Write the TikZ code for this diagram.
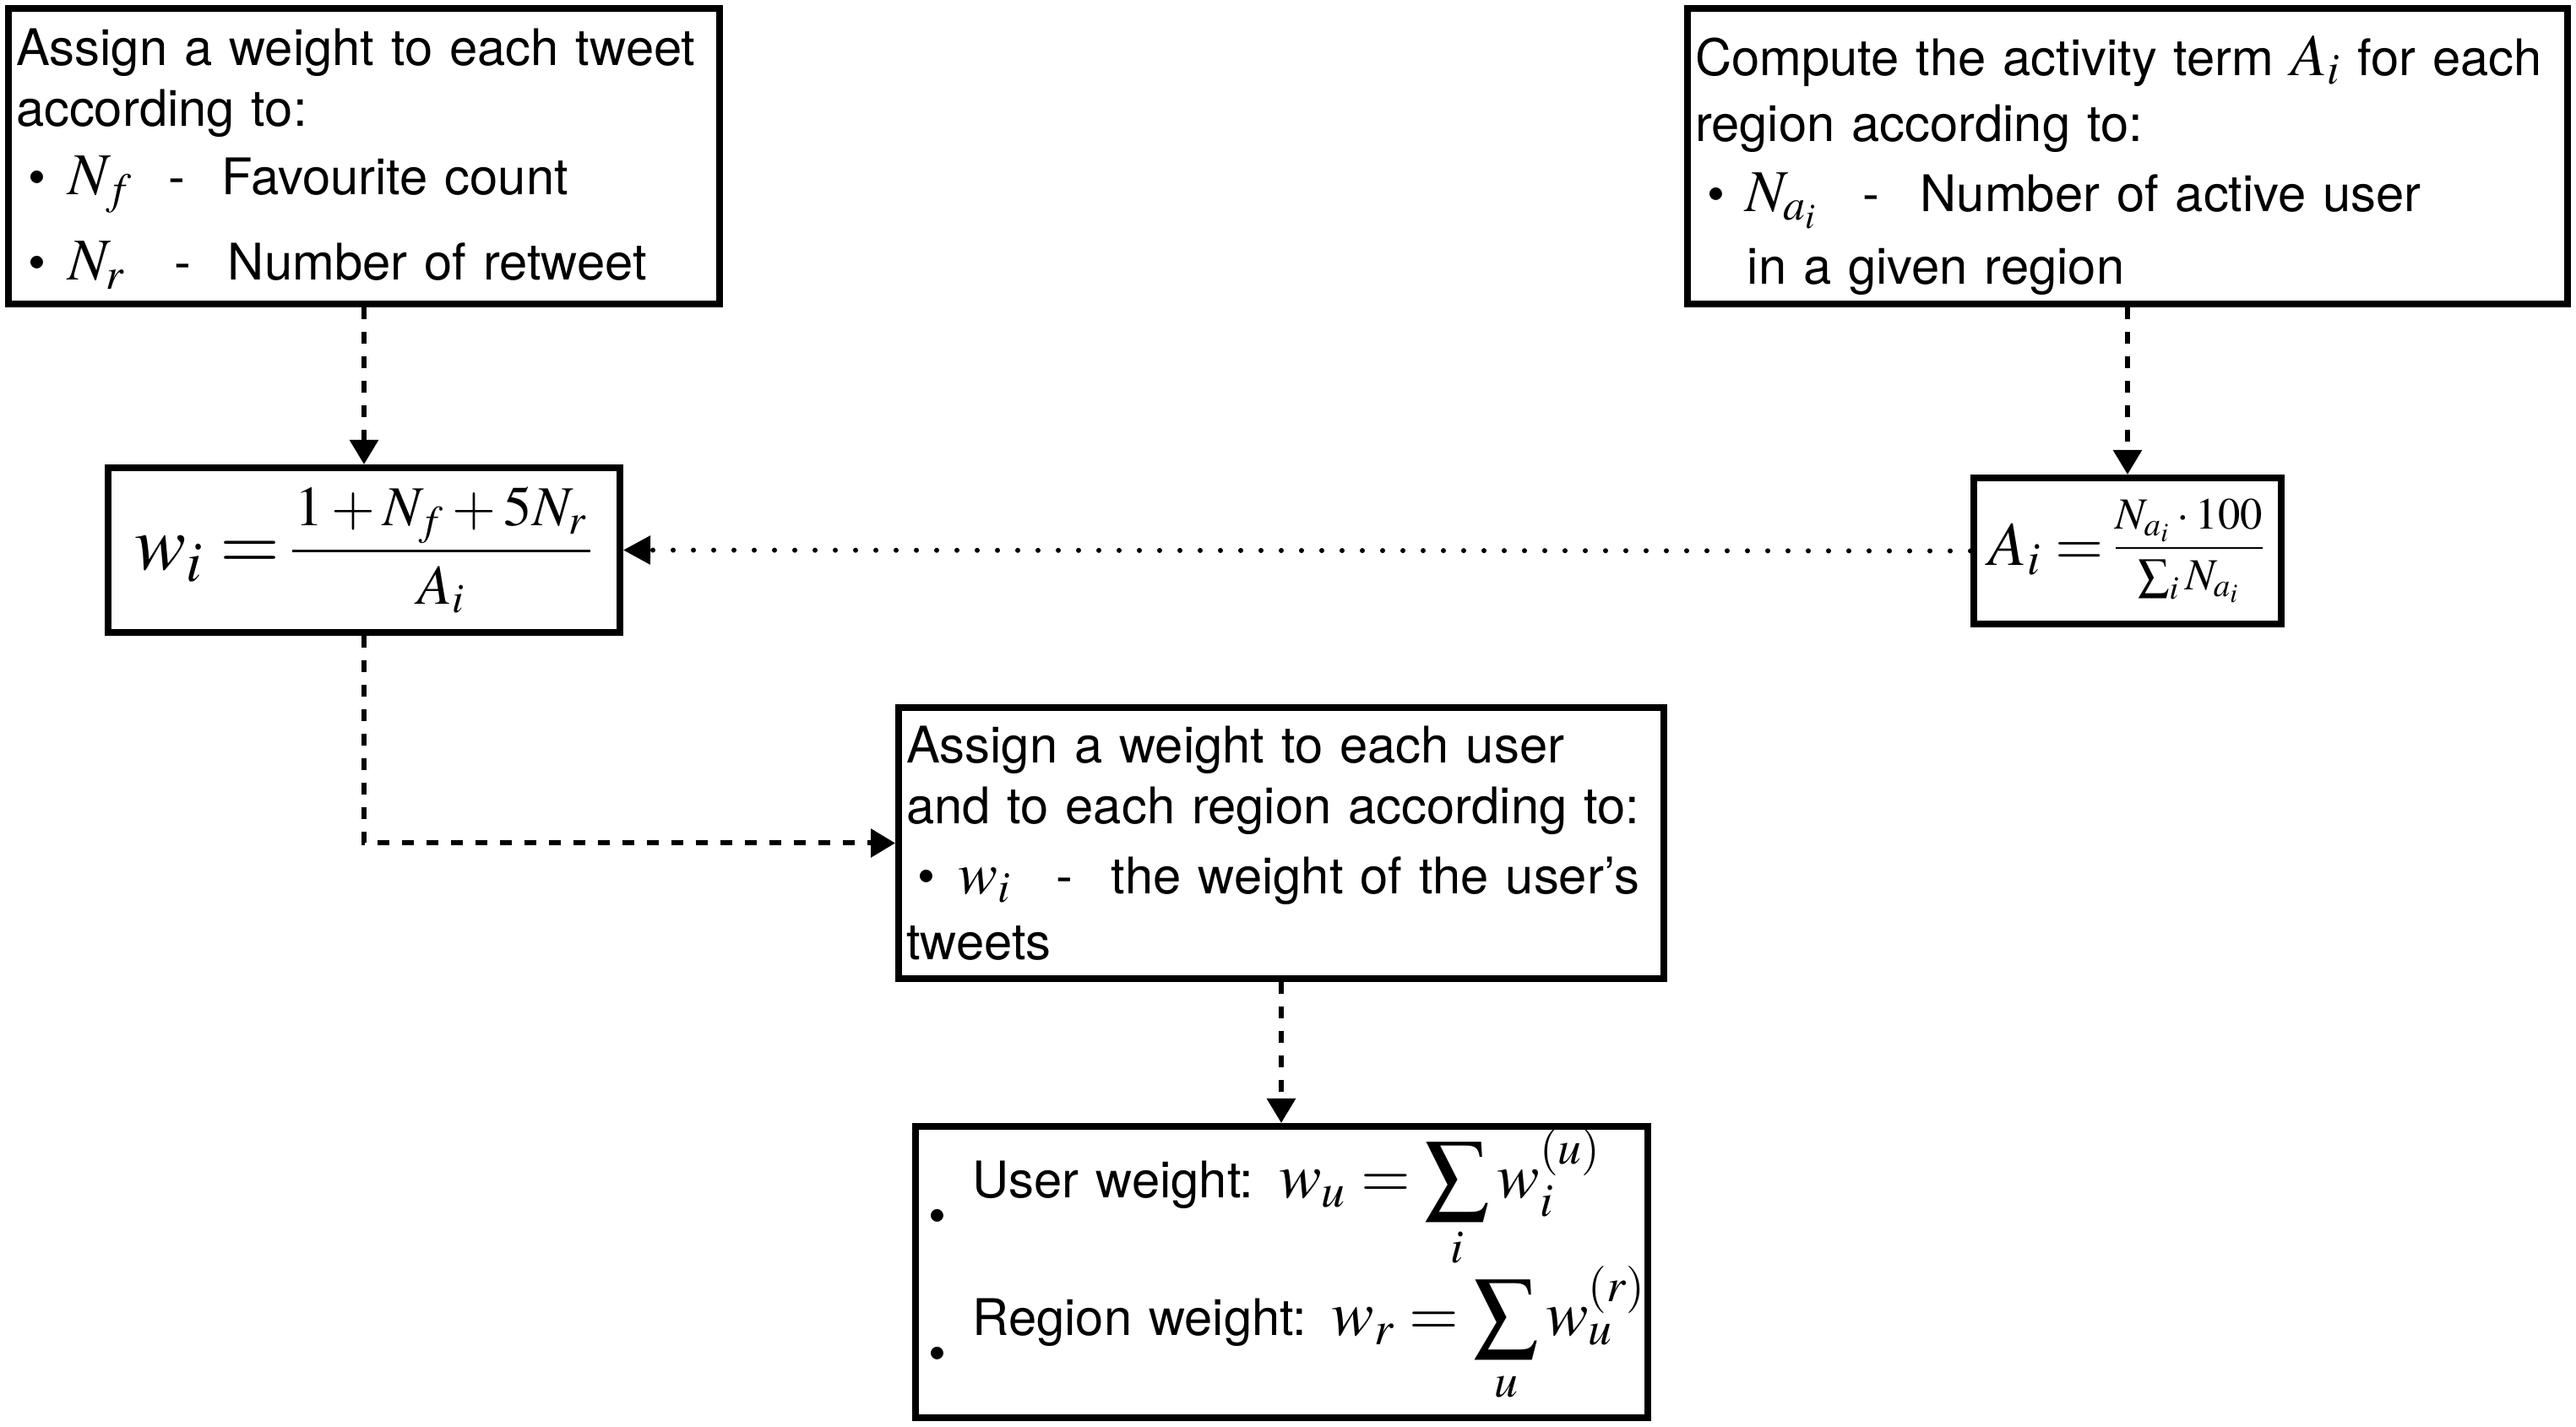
\documentclass[tikz,border=0pt]{standalone}
\usepackage{amsmath}
\usepackage{mathptmx}
\usepackage[no-math]{fontspec}
\setmainfont{TeX Gyre Heros}
\usepackage{tikz}
\usetikzlibrary{positioning,arrows.meta}

\begin{document}
\begin{tikzpicture}[box/.style={draw, rectangle, line width=0.8mm, inner xsep=0.09cm, inner ysep=0pt, align=left, font=\fontsize{17pt}{20.5pt}\selectfont},flow/.style={-{Triangle[length=2.9mm,width=3.3mm]}, line width=0.6mm, dash pattern=on 1.4mm off 1.5mm},dots/.style={-{Triangle[length=3.2mm,width=3.3mm]}, line width=0.6mm, line cap=round, dash pattern=on 0pt off 2.4mm}]
  \useasboundingbox (0,0) rectangle (30.5,-16.9);
  \node[box, minimum width=8.42cm, minimum height=3.50cm, text width=8.24cm] (tweet) at (4.31,-1.85) {\rule{0pt}{14pt}Assign a weight to each tweet\\according to:\\[2.7pt]\hspace*{4pt}\makebox[13.4pt][l]{\textbullet}\makebox[34pt][l]{{\fontsize{20pt}{22pt}\selectfont$N_f$}}\makebox[18pt][l]{-}Favourite count\\[8.2pt]\hspace*{4pt}\makebox[13.4pt][l]{\textbullet}\makebox[36pt][l]{{\fontsize{20pt}{22pt}\selectfont$N_r$}}\makebox[18pt][l]{-}Number of retweet};
  \node[box, minimum width=10.42cm, minimum height=3.50cm, text width=10.24cm, right=11.38cm of tweet] (activity) {\rule{0pt}{19.7pt}Compute the activity term {\fontsize{20pt}{22pt}\selectfont$A_i$} for each\\[1.7pt]region according to:\\[3.1pt]\hspace*{4pt}\makebox[12.8pt][l]{\textbullet}\makebox[39.8pt][l]{{\fontsize{20pt}{22pt}\selectfont$N_{a_i}$}}\makebox[19.3pt][l]{-}Number of active user\\[4.1pt]\hspace*{17.6pt}in a given region};
  \node[box, minimum width=6.06cm, minimum height=1.95cm, below=1.86cm of tweet] (wbox) {{\fontsize{26pt}{30pt}\selectfont$w_i =$}\,\raisebox{1.5pt}{\fontsize{19pt}{22pt}\selectfont$\dfrac{\hspace{1pt}1+N_f+5N_r\hspace{1pt}}{A_i}$}};
  \node[box, minimum width=3.64cm, minimum height=1.73cm, below=1.98cm of activity] (abox) {{\fontsize{21pt}{24pt}\selectfont$A_i =$}\,\raisebox{2pt}{\fontsize{15pt}{16pt}\selectfont$\dfrac{N_{a_i}\cdot 100}{\sum_i N_{a_i}}$}};
  \node[box, minimum width=9.06cm, minimum height=3.21cm, text width=8.88cm] (user) at (15.17,-9.985) {Assign a weight to each user\\and to each region according to:\\[3pt]\hspace*{3.7pt}\makebox[13.9pt][l]{\textbullet}\makebox[33pt][l]{{\fontsize{20pt}{22pt}\selectfont$w_i$}}\makebox[18.5pt][l]{-}the weight of the user’s\\[1.7pt]tweets};
  \node[box, minimum width=8.67cm, minimum height=3.45cm, text width=8.49cm, below=1.67cm of user] (final) {\mbox{\hspace*{2pt}\makebox[14.8pt][l]{\raisebox{-12pt}{\textbullet}}User weight: {\fontsize{21.5pt}{24pt}\selectfont$w_u = \displaystyle\sum_i w_i^{(u)}$}}\\[-2pt]\mbox{\hspace*{2pt}\makebox[14.8pt][l]{\raisebox{-12pt}{\textbullet}}Region weight: {\fontsize{21.5pt}{24pt}\selectfont$w_r = \displaystyle\sum_u w_u^{(r)}$}\rule[-27pt]{0pt}{0pt}}};
  \draw[flow] (tweet.south) -- (wbox.north);
  \draw[flow] (activity.south) -- (abox.north);
  \draw[dots] (abox.west) -- (wbox.east);
  \draw[flow] (wbox.south) |- (user.west);
  \draw[flow] (user.south) -- (final.north);
\end{tikzpicture}
\end{document}
